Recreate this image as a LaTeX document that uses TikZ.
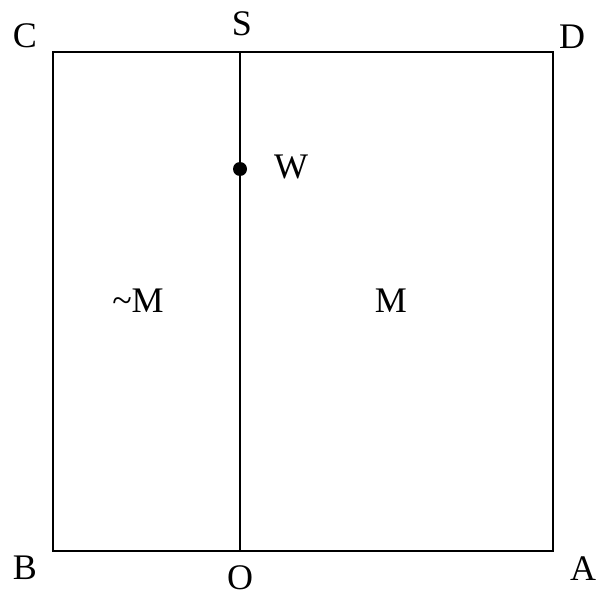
\documentclass[tikz,border=0pt]{standalone}
\usepackage{fontspec}
\setmainfont{Liberation Serif}
\usepackage{tikz}

\begin{document}
\begin{tikzpicture}[x=1pt,y=-1pt,line width=1.8pt,
  lbl/.style={inner sep=0pt,font=\fontsize{36}{42}\selectfont}]
\useasboundingbox (0,0) rectangle (600,599);
\coordinate (C) at (53,52);
\coordinate (D) at (553,52);
\coordinate (B) at (53,551);
\coordinate (A) at (553,551);
\coordinate (S) at (240,52);
\coordinate (O) at (240,551);
\coordinate (W) at (240,169);
\draw (B) rectangle (D);
\draw (O) -- (S);
\fill (W) circle (7);
\node[lbl] (lc) at (25,36) {C};
\node[lbl] (ls) at (242,24) {S};
\node[lbl] (ld) at (572,37) {D};
\node[lbl] (lb) at (25,568) {B};
\node[lbl] (lo) at (240,578) {O};
\node[lbl] (la) at (583,569) {A};
\node[lbl] (lw) at (291,167) {W};
\node[lbl] (lnm) at (138,301) {\textasciitilde M};
\node[lbl] (lm) at (391,301) {M};
\end{tikzpicture}
\end{document}
